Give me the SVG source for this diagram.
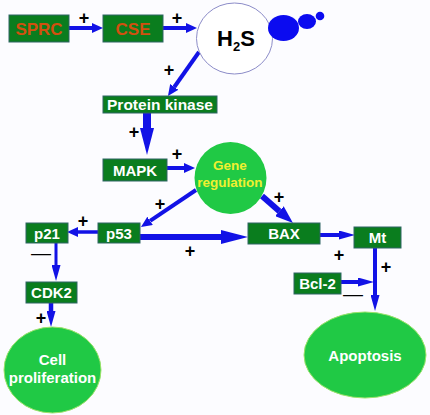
<svg xmlns="http://www.w3.org/2000/svg" width="430" height="415" viewBox="0 0 430 415">
<style>
.box{fill:#0a7d1e;stroke:#2f6464;stroke-width:1}
.bt{font-family:"Liberation Sans",Arial,sans-serif;font-weight:bold;font-size:15px;fill:#ffffff;text-anchor:middle}
.ot{font-family:"Liberation Sans",Arial,sans-serif;font-weight:bold;font-size:17px;fill:#d2500f;text-anchor:middle}
.pl{font-family:"Liberation Sans",Arial,sans-serif;font-weight:bold;font-size:18px;fill:#000000;text-anchor:middle}
.mi{font-family:"Liberation Sans",Arial,sans-serif;font-size:20px;fill:#000000;text-anchor:middle}
.ar{stroke:#1212e6;fill:none;stroke-linecap:butt}
.ell{fill:#20c945;stroke:#9be36a;stroke-width:1}
</style>
<defs>
<marker id="a" viewBox="0 0 11 10" refX="0" refY="5" markerWidth="11" markerHeight="10" markerUnits="userSpaceOnUse" orient="auto"><path d="M0,0 L11,5 L0,10 z" fill="#1212e6"/></marker>
<marker id="t" viewBox="0 0 16 9" refX="0" refY="4.5" markerWidth="16" markerHeight="9" markerUnits="userSpaceOnUse" orient="auto"><path d="M0,0 L16,4.5 L0,9 z" fill="#1212e6"/></marker>
<marker id="c" viewBox="0 0 18 13" refX="0" refY="6.5" markerWidth="18" markerHeight="13" markerUnits="userSpaceOnUse" orient="auto"><path d="M0,0 L18,6.5 L0,13 z" fill="#1212e6"/></marker>
<marker id="b" viewBox="0 0 27 14" refX="0" refY="7" markerWidth="27" markerHeight="14" markerUnits="userSpaceOnUse" orient="auto"><path d="M0,0 L27,7 L0,14 z" fill="#1212e6"/></marker>
</defs>
<rect x="0" y="0" width="430" height="415" fill="#fcfcff"/>

<g id="connectors">
<line class="ar" x1="69" y1="28" x2="92" y2="28" stroke-width="4" marker-end="url(#a)"/>
<line class="ar" x1="163" y1="28" x2="186" y2="28" stroke-width="4" marker-end="url(#a)"/>
<line class="ar" x1="199" y1="52" x2="174.3" y2="87" stroke-width="4" marker-end="url(#a)"/>
<line class="ar" x1="147" y1="113" x2="147" y2="128" stroke-width="8" marker-end="url(#b)"/>
<line class="ar" x1="167" y1="168" x2="184" y2="168" stroke-width="4" marker-end="url(#a)"/>
<line class="ar" x1="196" y1="190" x2="150.1" y2="220.9" stroke-width="4" marker-end="url(#a)"/>
<line class="ar" x1="98" y1="232" x2="78" y2="232" stroke-width="3.5" marker-end="url(#a)"/>
<line class="ar" x1="56" y1="243" x2="56" y2="265" stroke-width="3" marker-end="url(#t)"/>
<line class="ar" x1="51" y1="303" x2="51" y2="311" stroke-width="4.5" marker-end="url(#t)"/>
<line class="ar" x1="140" y1="237" x2="221" y2="237" stroke-width="6" marker-end="url(#b)"/>
<line class="ar" x1="262" y1="196" x2="279.4" y2="211.2" stroke-width="6" marker-end="url(#c)"/>
<line class="ar" x1="320" y1="235" x2="339" y2="235" stroke-width="4" marker-end="url(#t)"/>
<line class="ar" x1="375" y1="248" x2="375" y2="295" stroke-width="4" marker-end="url(#t)"/>
<line class="ar" x1="341" y1="282" x2="358" y2="282" stroke-width="4" marker-end="url(#t)"/>
</g>

<g id="labels">
<text class="pl" x="84" y="24">+</text>
<text class="pl" x="177" y="24">+</text>
<text class="pl" x="169" y="76">+</text>
<text class="pl" x="134" y="138">+</text>
<text class="pl" x="177" y="160">+</text>
<text class="pl" x="160" y="210">+</text>
<text class="pl" x="83" y="227">+</text>
<text class="pl" x="190" y="257">+</text>
<text class="pl" x="279" y="203">+</text>
<text class="pl" x="339" y="261">+</text>
<text class="pl" x="386" y="273">+</text>
<text class="pl" x="41" y="324">+</text>
<text class="mi" x="41" y="260">—</text>
<text class="mi" x="353" y="301">—</text>
</g>

<g id="sprc"><rect class="box" x="9" y="15" width="60" height="27"/><text class="ot" x="39" y="34.5">SPRC</text></g>
<g id="cse"><rect class="box" x="103" y="15" width="60" height="27"/><text class="ot" x="133" y="34.5">CSE</text></g>
<g id="h2s">
<ellipse cx="234.5" cy="38.5" rx="38" ry="35.5" fill="#ffffff" stroke="#8c8cc8" stroke-width="1"/>
<text x="236" y="46" font-family="'Liberation Sans',Arial,sans-serif" font-weight="bold" font-size="22" fill="#000" text-anchor="middle">H<tspan font-size="13" dy="5">2</tspan><tspan dy="-5">S</tspan></text>
</g>
<g id="bubbles" fill="#0b0bf0">
<ellipse cx="283.5" cy="28" rx="15.5" ry="13"/>
<ellipse cx="307" cy="21.5" rx="9" ry="7.5"/>
<circle cx="320" cy="16" r="4.3"/>
</g>
<g id="pk"><rect class="box" x="103" y="96" width="114" height="17"/><text class="bt" x="160" y="110" style="font-size:15.5px">Protein kinase</text></g>
<g id="mapk"><rect class="box" x="103" y="159" width="64" height="22"/><text class="bt" x="135" y="175.5">MAPK</text></g>
<g id="gene">
<circle cx="230.5" cy="178" r="36" fill="#20c945"/>
<text x="230" y="170" font-family="'Liberation Sans',Arial,sans-serif" font-weight="bold" font-size="13.5" fill="#f0f030" text-anchor="middle">Gene</text>
<text x="230" y="187" font-family="'Liberation Sans',Arial,sans-serif" font-weight="bold" font-size="13.5" fill="#f0f030" text-anchor="middle">regulation</text>
</g>
<g id="p21"><rect class="box" x="26" y="223" width="42" height="20"/><text class="bt" x="47" y="238.5">p21</text></g>
<g id="p53"><rect class="box" x="98" y="223" width="42" height="20"/><text class="bt" x="119" y="238.5">p53</text></g>
<g id="bax"><rect class="box" x="248" y="223" width="72" height="21"/><text class="bt" x="284" y="239">BAX</text></g>
<g id="mt"><rect class="box" x="354" y="227" width="47" height="21"/><text class="bt" x="377.5" y="243">Mt</text></g>
<g id="cdk2"><rect class="box" x="26" y="282" width="51" height="21"/><text class="bt" x="51.5" y="298">CDK2</text></g>
<g id="bcl2"><rect class="box" x="294" y="273" width="47" height="21"/><text class="bt" x="317.5" y="289">Bcl-2</text></g>
<g id="cell">
<ellipse class="ell" cx="52.5" cy="370" rx="48.5" ry="43"/>
<text class="bt" x="52.5" y="365">Cell</text>
<text class="bt" x="52.5" y="383">proliferation</text>
</g>
<g id="apoptosis">
<ellipse class="ell" cx="365" cy="355" rx="61" ry="43"/>
<text class="bt" x="365" y="361">Apoptosis</text>
</g>
</svg>
